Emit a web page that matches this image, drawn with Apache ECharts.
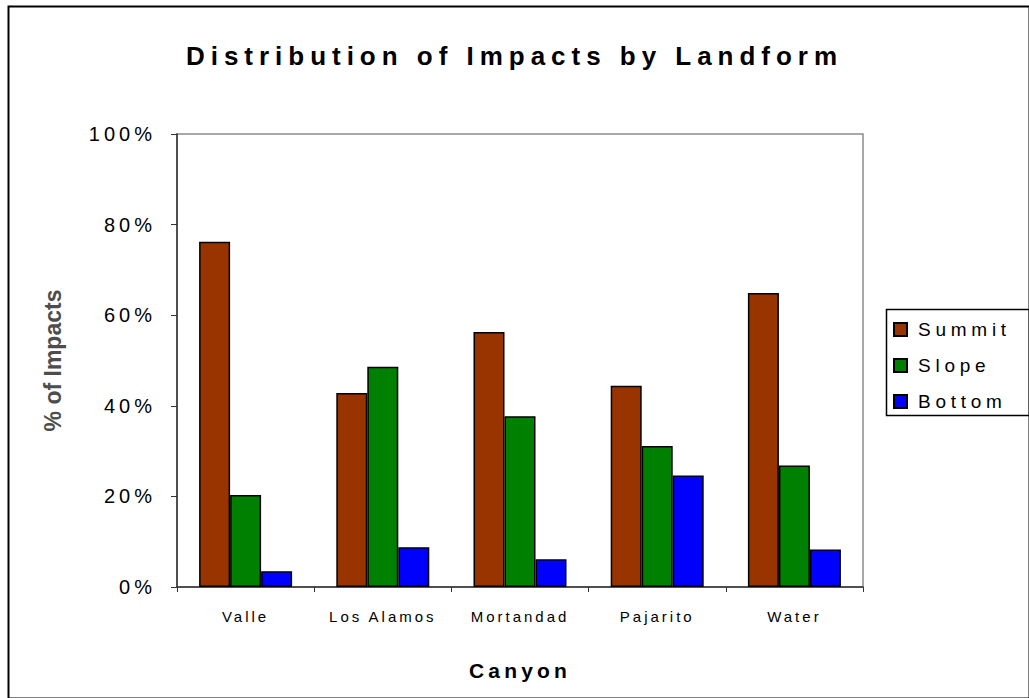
<!DOCTYPE html>
<html>
<head>
<meta charset="utf-8">
<script src="https://cdn.jsdelivr.net/npm/echarts@6/dist/echarts.min.js"></script>
<style>
html,body{margin:0;padding:0;background:#fff;}
#c{width:1029px;height:698px;}
</style>
</head>
<body>
<div id="c"></div>
<script>
const categories = ['Valle', 'Los Alamos', 'Mortandad', 'Pajarito', 'Water'];
const seriesNames = ['Summit', 'Slope', 'Bottom'];
const summit = [76.2, 42.8, 56.3, 44.4, 64.9];
const slope = [20.3, 48.6, 37.7, 31.1, 26.8];
const bottom = [3.5, 8.8, 6.1, 24.6, 8.3];
const colors = ['#993300', '#008000', '#0000FF'];

const FONT = '"Liberation Sans", Arial, sans-serif';
const chart = echarts.init(document.getElementById('c'), null, {renderer: 'svg'});

const mkSeries = (name, data, color) => ({
  name, type: 'bar', data, barWidth: 31, barGap: '0%',
  itemStyle: {color, borderColor: '#000', borderWidth: 1.5},
  emphasis: {disabled: true}
});

chart.setOption({
  animation: false,
  backgroundColor: '#fff',
  title: {
    text: 'Distribution of Impacts by Landform',
    left: 'center', top: 38,
    textStyle: {fontFamily: FONT, fontSize: 26, fontWeight: 'bold', color: '#000'}
  },
  legend: {
    orient: 'vertical', left: 888, top: 315,
    itemWidth: 13, itemHeight: 13, itemGap: 17, icon: 'rect',
    selectedMode: false,
    textStyle: {fontFamily: FONT, fontSize: 19, color: '#000', padding: [0, 0, 0, 6]},
    data: seriesNames
  },
  grid: {
    left: 177, right: 166, top: 134, bottom: 111,
    show: true, borderColor: '#8c8c8c', borderWidth: 1.5, backgroundColor: 'transparent'
  },
  xAxis: {
    type: 'category', data: categories,
    name: 'Canyon', nameLocation: 'middle', nameGap: 73,
    nameTextStyle: {fontFamily: FONT, fontSize: 21, fontWeight: 'bold', color: '#000'},
    axisLine: {lineStyle: {color: '#333', width: 1.5}},
    axisTick: {show: true, length: 5, lineStyle: {color: '#333'}},
    axisLabel: {fontFamily: FONT, fontSize: 15, color: '#000', margin: 22}
  },
  yAxis: {
    type: 'value', min: 0, max: 100, interval: 20,
    name: '% of Impacts', nameLocation: 'middle', nameGap: 113,
    nameTextStyle: {fontFamily: FONT, fontSize: 23, fontWeight: 'bold', color: '#4d4d4d'},
    axisLine: {show: true, lineStyle: {color: '#333', width: 1.5}},
    axisTick: {show: true, length: 6, lineStyle: {color: '#333'}},
    splitLine: {show: false},
    axisLabel: {fontFamily: FONT, fontSize: 20, color: '#000', margin: 21,
      formatter: v => v + '%'}
  },
  graphic: [{
    type: 'rect', left: 6, top: 4, silent: true,
    shape: {width: 1021, height: 692},
    style: {fill: 'none', stroke: '#000', lineWidth: 2}
  }, {
    type: 'rect', left: 884, top: 307, silent: true,
    shape: {width: 143, height: 106},
    style: {fill: 'none', stroke: '#000', lineWidth: 1.5}
  }],
  series: [
    mkSeries(seriesNames[0], summit, colors[0]),
    mkSeries(seriesNames[1], slope, colors[1]),
    mkSeries(seriesNames[2], bottom, colors[2])
  ]
});

function spaceText() {
  document.querySelectorAll('#c svg text').forEach(t => {
    const s = t.textContent;
    if (s === '% of Impacts') return;
    let ls = '0.2em';
    if (seriesNames.includes(s)) ls = '0.25em';
    if (s.indexOf('Distribution') === 0) ls = '0.23em';
    t.setAttribute('letter-spacing', ls);
    t.style.letterSpacing = ls;
  });
}
chart.on('finished', spaceText);
spaceText();
</script>
</body>
</html>
